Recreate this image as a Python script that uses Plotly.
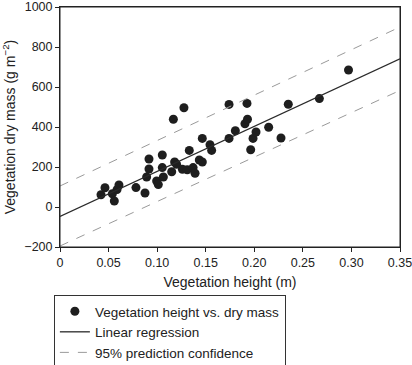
import plotly.graph_objects as go

# Observations: vegetation height (m) vs. dry mass (g m^-2)
height_m = [0.0422, 0.0463, 0.0539, 0.0559, 0.0587, 0.0607, 0.0782, 0.0875, 0.0892,
            0.0916, 0.0916, 0.0995, 0.1012, 0.1053, 0.1053, 0.1064, 0.115, 0.118,
            0.120, 0.1167, 0.126, 0.131, 0.1276, 0.1331, 0.137, 0.139, 0.1434,
            0.1465, 0.1465, 0.1544, 0.1561, 0.174, 0.174, 0.1805, 0.1904, 0.193,
            0.1925, 0.1963, 0.1987, 0.2018, 0.2148, 0.2275, 0.235, 0.267, 0.297]
dry_mass = [61, 96, 66, 30, 87, 110, 97, 70, 150,
            240, 190, 130, 112, 260, 197, 150, 176, 225,
            214, 439, 189, 186, 496, 283, 197, 169, 235,
            225, 343, 311, 283, 513, 343, 381, 416, 439,
            518, 286, 343, 375, 399, 345, 514, 542, 685]

# Regression line and 95% prediction band (end points)
fit_x = [0.0, 0.35]
fit_y = [-47, 741]
upper_y = [105, 900]
lower_y = [-195, 583]

x_ticks = [0, 0.05, 0.10, 0.15, 0.20, 0.25, 0.30, 0.35]
x_tick_labels = ["0", "0.05", "0.10", "0.15", "0.20", "0.25", "0.30", "0.35"]
y_ticks = [-200, 0, 200, 400, 600, 800, 1000]

FONT = "Liberation Sans, Arial, Helvetica, sans-serif"

fig = go.Figure()
fig.add_trace(go.Scatter(
    x=height_m, y=dry_mass, mode="markers", name="Vegetation height vs. dry mass",
    marker=dict(color="#1e1e1e", size=9, line=dict(width=0)),
))
fig.add_trace(go.Scatter(
    x=fit_x, y=fit_y, mode="lines", name="Linear regression",
    line=dict(color="#2a2a2a", width=1.3),
))
fig.add_trace(go.Scatter(
    x=fit_x, y=upper_y, mode="lines", name="95% prediction confidence",
    line=dict(color="#9a9a9a", width=1, dash="dash"), legendgroup="pi",
))
fig.add_trace(go.Scatter(
    x=fit_x, y=lower_y, mode="lines", name="95% prediction confidence",
    line=dict(color="#9a9a9a", width=1, dash="dash"), legendgroup="pi",
    showlegend=False,
))

axis_common = dict(
    showline=True, linecolor="#222", linewidth=1, mirror=True,
    ticks="outside", ticklen=4, tickcolor="#222", showgrid=False, zeroline=False,
    tickfont=dict(family=FONT, size=12.5, color="#222"),
    ticklabeloverflow="allow",
)
fig.update_xaxes(
    range=[0, 0.35], tickvals=x_ticks, ticktext=x_tick_labels,
    title=dict(text="Vegetation height (m)", font=dict(family=FONT, size=14, color="#222"), standoff=8),
    **axis_common,
)
fig.update_yaxes(
    range=[-200, 1000], tickvals=y_ticks,
    title=dict(text="Vegetation dry mass (g m<sup>\u22122</sup>)", font=dict(family=FONT, size=14, color="#222"), standoff=6),
    **axis_common,
)
# plot frame
fig.add_shape(type="rect", xref="paper", yref="paper", x0=0, y0=0, x1=1, y1=1,
              line=dict(color="#222", width=1), fillcolor="rgba(0,0,0,0)", layer="above")
fig.update_layout(
    width=412, height=365,
    margin=dict(l=60, r=12, t=7, b=118, autoexpand=False),
    paper_bgcolor="white", plot_bgcolor="white",
    font=dict(family=FONT, color="#222"),
    legend=dict(
        x=-0.018, y=-0.2, xanchor="left", yanchor="top",
        bordercolor="#333", borderwidth=1, bgcolor="white",
        font=dict(family=FONT, size=13.5, color="#222"),
        tracegroupgap=0, itemwidth=30,
    ),
    showlegend=True,
)

fig.write_html(
    "out.html",
    config={"displayModeBar": False},
    post_script="document.body.style.margin='0';document.body.style.padding='0';",
)
